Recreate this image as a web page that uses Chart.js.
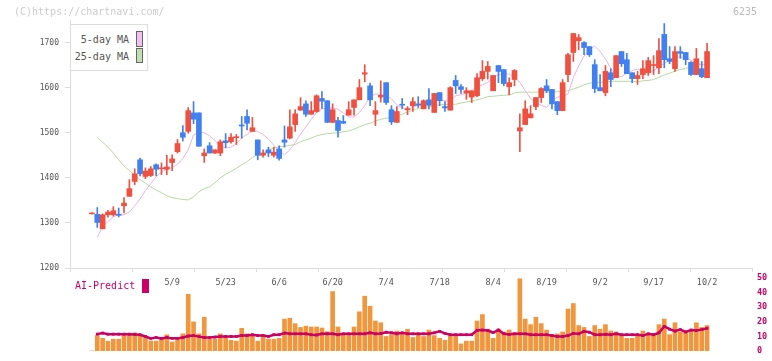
<!DOCTYPE html>
<html>
<head>
<meta charset="utf-8">
<script src="https://cdn.jsdelivr.net/npm/chart.js@4.4.0/dist/chart.umd.min.js"></script>
<style>
body { margin: 0; background: #fff; }
#wrap { position: relative; width: 772px; height: 361px; overflow: hidden; font-family: "DejaVu Sans Mono", monospace; }
canvas { position: absolute; left: 0; top: 0; }
.txt { position: absolute; font-size: 10px; line-height: 12px; white-space: nowrap; }
#copy { left: 14px; top: 6px; color: #ccc; }
#code { right: 15px; top: 6px; color: #bbb; }
#maBox { position: absolute; left: 70px; top: 24px; width: 78px; height: 47px; box-sizing: border-box; border: 1px solid #ddd; background: #fff; }
.lt { right: 643px; color: #555; }
.sw { position: absolute; left: 136px; width: 7px; box-sizing: border-box; border: 1px solid #666; }
#ai { left: 75px; top: 280px; color: #CC0066; }
#aiBox { position: absolute; left: 142px; top: 279px; width: 7px; height: 14px; background: #CC0066; }
</style>
</head>
<body>
<div id="wrap">
  <canvas id="priceChart" width="772" height="361"></canvas>
  <canvas id="volChart" width="772" height="361"></canvas>
  <div id="copy" class="txt">(C)https://chartnavi.com/</div>
  <div id="code" class="txt">6235</div>
  <div id="maBox"></div>
  <div class="txt lt" style="top:34px">5-day MA</div>
  <div class="sw" style="top:31px;height:16px;background:#F0C0F0"></div>
  <div class="txt lt" style="top:51px">25-day MA</div>
  <div class="sw" style="top:48px;height:15px;background:#C0E0B0"></div>
  <div id="ai" class="txt">AI-Predict</div>
  <div id="aiBox"></div>
</div>
<script>
// daily candles, 4/15 .. 10/2
const opens = [1320,1319,1287,1318,1318,1319,1338,1359,1392,1440,
  1403,1405,1429,1420,1419,1434,1458,1500,1503,1544,
  1544,1449,1471,1455,1455,1482,1480,1489,1517,1536,
  1503,1484,1450,1462,1450,1464,1484,1488,1518,1550,
  1564,1541,1547,1576,1571,1523,1527,1525,1539,1556,
  1573,1630,1604,1541,1579,1611,1551,1523,1563,1551,
  1560,1564,1553,1573,1545,1589,1558,1550,1616,1602,
  1588,1579,1582,1620,1636,1593,1649,1640,1602,1618,
  1504,1518,1533,1558,1578,1604,1596,1569,1549,1629,
  1678,1704,1700,1691,1651,1600,1589,1633,1622,1680,
  1662,1633,1620,1629,1633,1649,1644,1718,1664,1642,
  1680,1678,1656,1629,1642,1622];
const highs = [1320,1334,1320,1328,1336,1333,1356,1396,1420,1444,
  1422,1425,1431,1433,1450,1451,1485,1516,1556,1569,
  1544,1464,1478,1462,1484,1498,1498,1496,1536,1551,
  1534,1484,1462,1468,1468,1471,1515,1551,1551,1578,
  1571,1569,1584,1591,1571,1564,1534,1538,1569,1573,
  1618,1651,1610,1569,1615,1611,1560,1558,1576,1558,
  1578,1580,1573,1598,1587,1589,1569,1602,1627,1607,
  1600,1593,1631,1660,1658,1627,1649,1640,1622,1640,
  1542,1571,1560,1578,1600,1618,1596,1569,1618,1676,
  1720,1718,1702,1691,1662,1629,1649,1642,1671,1680,
  1676,1633,1636,1660,1667,1671,1709,1742,1691,1691,
  1691,1678,1658,1687,1658,1698];
const lows = [1320,1290,1287,1313,1315,1313,1322,1359,1385,1404,
  1398,1403,1404,1407,1407,1416,1455,1482,1499,1520,
  1470,1434,1455,1454,1449,1467,1477,1474,1488,1506,
  1503,1440,1446,1447,1446,1439,1468,1486,1503,1550,
  1536,1541,1545,1554,1523,1522,1490,1521,1539,1539,
  1573,1613,1560,1516,1568,1563,1518,1523,1553,1540,
  1547,1556,1553,1553,1545,1560,1547,1550,1587,1587,
  1574,1567,1580,1616,1619,1593,1611,1604,1584,1604,
  1458,1518,1533,1551,1567,1589,1553,1540,1549,1613,
  1658,1684,1673,1669,1589,1593,1582,1602,1622,1647,
  1631,1611,1607,1620,1627,1629,1631,1644,1653,1636,
  1665,1651,1627,1629,1622,1622];
const closes = [1320,1301,1318,1324,1327,1317,1344,1376,1409,1409,
  1415,1420,1419,1420,1424,1442,1476,1490,1549,1530,
  1470,1455,1455,1462,1480,1478,1490,1489,1515,1521,
  1511,1450,1455,1455,1457,1443,1479,1513,1542,1558,
  1541,1549,1582,1570,1523,1551,1505,1521,1551,1573,
  1600,1633,1573,1549,1583,1567,1524,1547,1561,1553,
  1569,1561,1571,1561,1587,1571,1555,1600,1604,1596,
  1593,1593,1622,1636,1647,1627,1636,1609,1611,1638,
  1511,1553,1542,1578,1598,1593,1564,1549,1611,1673,
  1720,1711,1689,1673,1598,1593,1636,1618,1671,1653,
  1631,1620,1627,1642,1660,1651,1682,1662,1658,1680,
  1676,1662,1629,1664,1624,1680];

const ma5 = [null,1268,1292,1303,1314,1318,1318,1324,1338,1353,1372,
  1387,1402,1413,1419,1423,1430,1443,1462,1495,1501,
  1500,1493,1483,1470,1466,1468,1476,1488,1497,1503,
  1503,1496,1486,1472,1460,1451,1462,1478,1497,1513,
  1530,1545,1553,1555,1555,1552,1544,1535,1535,1545,
  1560,1580,1586,1585,1583,1575,1562,1555,1553,1556,
  1561,1563,1567,1571,1572,1571,1570,1582,1584,1588,
  1594,1601,1606,1612,1621,1629,1631,1630,1622,1612,
  1593,1576,1567,1561,1556,1570,1579,1581,1586,1622,
  1648,1670,1684,1692,1680,1664,1643,1626,1624,1632,
  1638,1641,1636,1636,1637,1646,1654,1661,1668,1668,
  1666,1661,1654,1651,1651];
const ma25 = [null,1490,1479,1468,1455,1440,1426,1416,1406,1396,1388,
  1380,1373,1367,1360,1356,1354,1352,1351,1358,1369,
  1376,1380,1389,1400,1408,1414,1421,1429,1436,1445,
  1452,1455,1462,1466,1469,1470,1472,1474,1480,1484,
  1488,1493,1496,1498,1499,1500,1502,1504,1508,1513,
  1518,1521,1526,1530,1532,1534,1537,1541,1546,1550,
  1554,1556,1558,1560,1562,1563,1563,1563,1566,1568,
  1570,1573,1576,1580,1581,1582,1583,1584,1588,1590,
  1590,1590,1590,1590,1590,1590,1591,1592,1593,1597,
  1601,1606,1610,1611,1612,1613,1614,1614,1614,1614,
  1614,1613,1615,1616,1618,1623,1628,1632,1637,1640,
  1643,1646,1651,1651,1651];

const volume = [0,10.5,8.6,6.7,8.0,8.0,10.5,11.1,12.4,11.1,9.2,
  6.7,6.7,8.0,11.1,6.1,8.0,11.7,38.8,19.9,11.7,
  23.1,8.0,8.0,11.7,9.2,7.3,6.7,15.5,11.7,11.1,
  6.7,11.1,8.0,8.0,8.6,21.8,22.4,18.7,16.1,17.0,
  16.4,16.4,15.7,13.2,40.7,16.4,11.1,11.1,16.4,26.8,
  37.5,30.6,20.5,19.3,9.9,11.1,13.6,11.7,14.9,9.2,
  11.1,9.9,14.3,10.5,8.6,7.3,10.5,10.5,4.8,6.7,
  6.7,20.5,24.9,14.9,8.6,14.9,13.0,14.3,12.4,49.5,
  21.8,18.0,23.1,18.7,14.3,11.1,11.7,13.0,28.7,32.5,
  17.4,16.1,9.9,17.4,14.9,18.0,13.6,13.0,10.5,8.6,
  8.6,10.5,13.6,11.1,11.7,18.0,21.8,11.1,19.3,13.0,
  13.0,13.6,19.3,16.1,17.4];
const aiPredict = [null,11.5,12.2,11.5,11.5,11.5,11.5,11.5,11.3,11.1,9.9,
  8.6,9.2,8.6,9.2,8.6,8.6,9.2,10.2,10.5,9.8,
  9.2,9.2,9.5,9.9,9.9,9.9,9.9,10.5,10.5,11.1,
  10.5,10.5,9.9,11.1,11.1,12.2,11.7,11.7,11.7,11.7,
  11.1,10.9,11.7,11.7,11.7,11.1,11.7,11.7,11.7,11.7,
  11.7,12.4,11.7,12.0,12.8,12.4,11.7,12.4,11.7,11.7,
  11.7,11.7,11.7,12.4,13.4,12.0,11.1,11.1,11.1,11.1,
  11.1,14.1,14.3,14.0,12.6,14.3,11.8,11.3,11.7,11.7,
  11.7,11.1,11.1,11.1,11.1,10.5,9.9,9.9,10.5,12.0,
  11.7,13.4,12.8,11.1,11.1,11.4,11.1,11.7,11.1,11.1,
  11.1,11.1,10.5,11.7,11.1,12.4,16.8,14.9,13.6,14.6,
  13.0,14.3,14.0,14.6,15.5];

const dateIdx = [15,25,35,45,55,65,75,85,95,105,115];
const dateLabels = ['5/9','5/23','6/6','6/20','7/4','7/18','8/4','8/19','9/2','9/17','10/2'];
const priceTicks = [1200,1300,1400,1500,1600,1700];
const volTicks = [0,10,20,30,40,50];

const xMin = -4.1, xMax = 123.4;
const upColor = '#F05040';
const downColor = '#4080F0';

Chart.defaults.font.family = '"DejaVu Sans Mono", monospace';

const idx = opens.map((_, i) => i);
const candleColors = idx.map(i => closes[i] >= opens[i] ? upColor : downColor);
const toPoints = arr => idx.filter(i => arr[i] !== null).map(i => ({ x: i, y: arr[i] }));

new Chart(document.getElementById('priceChart'), {
  type: 'bar',
  data: {
    datasets: [
      { type: 'line', label: '5-day MA', data: toPoints(ma5), borderColor: '#E8B4E8', borderWidth: 1, pointRadius: 0, order: 3 },
      { type: 'line', label: '25-day MA', data: toPoints(ma25), borderColor: '#B4DCA0', borderWidth: 1, pointRadius: 0, order: 3 },
      { label: 'wick', data: idx.map(i => ({ x: i, y: [lows[i], highs[i]] })), backgroundColor: candleColors, barThickness: 1, minBarLength: 1, grouped: false, order: 2 },
      { label: 'body', data: idx.map(i => ({ x: i, y: [opens[i], closes[i]] })), backgroundColor: candleColors, barThickness: 5, minBarLength: 1, grouped: false, order: 1 }
    ]
  },
  options: {
    responsive: false,
    animation: false,
    layout: { padding: { left: 0, right: 20, top: 20, bottom: 0 } },
    plugins: { legend: { display: false }, tooltip: { enabled: false } },
    scales: {
      x: {
        type: 'linear', min: xMin, max: xMax, offset: false, weight: 0,
        afterBuildTicks: s => { s.ticks = Array.from({ length: 12 }, (_, k) => ({ value: xMin + k * (xMax - xMin) / 11 })); },
        afterFit: s => { s.height = 10; },
        ticks: { display: false },
        grid: { drawOnChartArea: false, offset: false, color: '#ddd', tickLength: 4 },
        border: { color: '#ddd' }
      },
      xd: {
        type: 'linear', position: 'bottom', min: xMin, max: xMax, offset: false, weight: 1,
        afterBuildTicks: s => { s.ticks = dateIdx.map(v => ({ value: v })); },
        afterFit: s => { s.height = 83; },
        ticks: { callback: v => dateLabels[dateIdx.indexOf(v)], color: '#555', font: { size: 8.5 }, padding: 0, autoSkip: false, maxRotation: 0 },
        grid: { display: false, drawTicks: false },
        border: { display: false }
      },
      y: {
        min: 1200, max: 1750,
        afterBuildTicks: s => { s.ticks = priceTicks.map(v => ({ value: v })); },
        afterFit: s => { s.width = 70; },
        ticks: { callback: v => String(v), color: '#555', font: { size: 8 }, padding: 6 },
        grid: { drawOnChartArea: false, color: '#ddd', tickLength: 5 },
        border: { color: '#ddd' }
      }
    }
  }
});

new Chart(document.getElementById('volChart'), {
  type: 'bar',
  data: {
    datasets: [
      { type: 'line', label: 'AI-Predict', data: toPoints(aiPredict), borderColor: '#CC0066', borderWidth: 2.5,
        pointStyle: 'rect', pointRadius: 2, pointBackgroundColor: '#CC0066', pointBorderWidth: 0, order: 0 },
      { label: 'volume', data: idx.map(i => ({ x: i, y: volume[i] })), backgroundColor: '#F0963C', barThickness: 4, order: 1 }
    ]
  },
  options: {
    responsive: false,
    animation: false,
    layout: { padding: { left: 70, right: 0, top: 278, bottom: 4 } },
    plugins: { legend: { display: false }, tooltip: { enabled: false } },
    scales: {
      x: { type: 'linear', min: xMin, max: xMax, offset: false, display: false },
      y: {
        position: 'right', min: 0, max: 50,
        afterBuildTicks: s => { s.ticks = volTicks.map(v => ({ value: v })); },
        afterFit: s => { s.width = 20; },
        ticks: { color: '#CC0066', font: { size: 8.5, weight: 'bold' }, padding: 5 },
        grid: { display: false, drawTicks: false },
        border: { display: false }
      }
    }
  }
});
</script>
</body>
</html>
